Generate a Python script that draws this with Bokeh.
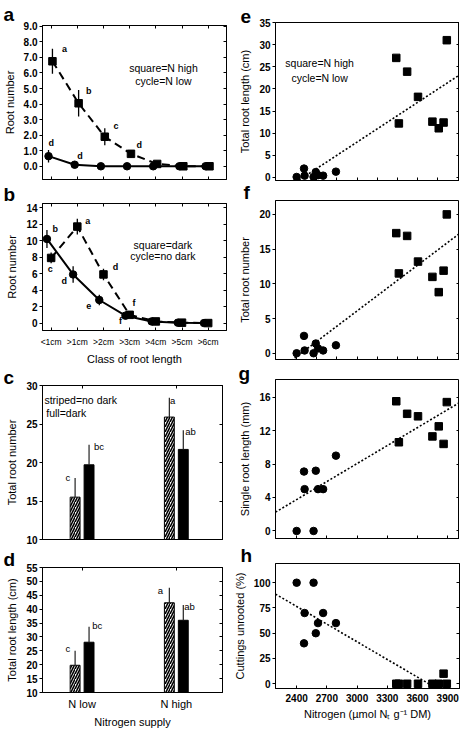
import numpy as np
from bokeh.plotting import figure
from bokeh.models import Range1d, FixedTicker, LinearAxis, NumeralTickFormatter
from bokeh.layouts import column, row
from bokeh.embed import file_html
from bokeh.resources import INLINE
from bokeh.core.properties import value

FONT = "Liberation Sans"

# ---------------- data ----------------
classes = ["<1cm", ">1cm", ">2cm", ">3cm", ">4cm", ">5cm", ">6cm"]
class_pos = [1, 2, 3, 4, 5, 6, 7]

a_nhigh = [6.75, 4.05, 1.9, 0.8, 0.15, 0.0, 0.0]
a_nhigh_err = [0.8, 0.85, 0.55, 0.25, 0.1, 0.0, 0.0]
a_nlow = [0.65, 0.1, 0.0, 0.0, 0.0, 0.0, 0.0]
a_nlow_err = [0.4, 0.05, 0.0, 0.0, 0.0, 0.0, 0.0]
a_nhigh_sig = ["a", "b", "c", "d"]
a_nlow_sig = ["d", "d"]

b_dark = [7.9, 11.7, 5.9, 1.0, 0.2, 0.05, 0.0]
b_dark_err = [0.65, 0.95, 0.7, 0.25, 0.1, 0.0, 0.0]
b_nodark = [10.2, 5.9, 2.8, 0.9, 0.2, 0.05, 0.0]
b_nodark_err = [1.1, 1.0, 0.65, 0.3, 0.1, 0.0, 0.0]
b_dark_sig = ["c", "a", "d", "f"]
b_nodark_sig = ["b", "d", "e", "f"]

supply = ["N low", "N high"]
supply_pos = [1, 2]
c_nodark = [15.5, 25.9]
c_nodark_err = [2.5, 2.5]
c_dark = [19.7, 21.7]
c_dark_err = [2.6, 2.5]
c_sig_nodark = ["c", "a"]
c_sig_dark = ["bc", "ab"]

d_nodark = [19.8, 42.3]
d_nodark_err = [5.2, 5.4]
d_dark = [28.1, 36.0]
d_dark_err = [5.6, 5.5]
d_sig_nodark = ["c", "a"]
d_sig_dark = ["bc", "ab"]

n_low_N = [2400, 2473, 2479, 2568, 2590, 2612, 2663, 2790]
n_high_N = [3389, 3415, 3497, 3605, 3748, 3811, 3859, 3891]
e_low = [0.1, 2.0, 0.4, 0.1, 1.2, 0.5, 0.4, 1.3]
e_high = [27.0, 12.2, 23.9, 18.2, 12.6, 11.1, 12.4, 31.0]
f_low = [0.0, 2.5, 0.4, 0.0, 1.4, 0.7, 0.4, 1.15]
f_high = [17.3, 11.5, 16.9, 13.2, 11.0, 8.8, 11.9, 20.0]
g_low = [0.0, 7.1, 5.0, 0.0, 7.2, 5.0, 5.0, 9.0]
g_high = [15.5, 10.6, 14.0, 13.7, 11.3, 12.5, 10.4, 15.4]
h_low = [100, 40, 70, 100, 50, 60, 70, 60]
h_high = [0, 0, 0, 0, 0, 0, 10, 0]


# ---------------- helpers ----------------
def make_fig(fw, fh, xr, yr, bl, br, bt, bb, letter, loff, lstand):
    p = figure(frame_width=fw, frame_height=fh, x_range=Range1d(*xr), y_range=Range1d(*yr),
               output_backend="svg", toolbar_location=None, title=letter,
               min_border_left=bl, min_border_right=br,
               min_border_top=bt, min_border_bottom=bb)
    p.grid.visible = False
    p.outline_line_color = "black"
    p.outline_line_width = 1
    p.background_fill_color = "white"
    p.border_fill_color = "white"
    t = p.title
    t.text_font = FONT
    t.text_font_size = "19px"
    t.text_font_style = "bold"
    t.text_color = "black"
    t.align = "left"
    t.vertical_align = "bottom"
    t.offset = loff
    t.standoff = lstand
    return p


def bare_axis(ticks, tick_in=3):
    return LinearAxis(ticker=FixedTicker(ticks=ticks), major_label_text_font_size="0px",
                      major_label_text_alpha=0, major_label_text_color=None,
                      major_label_standoff=0, major_tick_in=tick_in, major_tick_out=0,
                      minor_tick_in=0, minor_tick_out=0, axis_line_color="black")


def y_axis(p, ticks, label, fmt="0", mirror=True):
    ax = p.yaxis[0]
    ax.ticker = FixedTicker(ticks=ticks)
    ax.formatter = NumeralTickFormatter(format=fmt)
    ax.axis_label = label
    ax.axis_label_text_font = FONT
    ax.axis_label_text_font_size = "11px"
    ax.axis_label_text_font_style = "normal"
    ax.axis_label_text_color = "black"
    ax.axis_label_standoff = 5
    ax.major_label_text_font = FONT
    ax.major_label_text_font_size = "10px"
    ax.major_label_text_font_style = "bold"
    ax.major_label_text_color = "black"
    ax.major_label_standoff = 2
    ax.major_tick_out = 3
    ax.major_tick_in = 0
    ax.minor_tick_out = 0
    ax.minor_tick_in = 0
    ax.axis_line_color = "black"
    if mirror:
        p.add_layout(bare_axis(ticks), "right")


def x_axis(p, ticks, labels_on=False, overrides=None, label=None,
           lab_size="10px", lab_style="bold", top=False, standoff=4, tick_in=3):
    ax = p.xaxis[0]
    ax.ticker = FixedTicker(ticks=ticks)
    ax.major_tick_in = tick_in
    ax.major_tick_out = 0
    ax.minor_tick_in = 0
    ax.minor_tick_out = 0
    ax.axis_line_color = "black"
    if labels_on:
        ax.major_label_text_font = FONT
        ax.major_label_text_font_size = lab_size
        ax.major_label_text_font_style = lab_style
        ax.major_label_text_color = "black"
        ax.major_label_standoff = standoff
        if overrides:
            ax.major_label_overrides = overrides
    else:
        ax.major_label_text_font_size = "0px"
        ax.major_label_text_alpha = 0
        ax.major_label_text_color = None
        ax.major_label_standoff = 0
    if label:
        ax.axis_label = label
        ax.axis_label_text_font = FONT
        ax.axis_label_text_font_size = "11px"
        ax.axis_label_text_font_style = "normal"
        ax.axis_label_text_color = "black"
        ax.axis_label_standoff = 3
    if top:
        p.add_layout(bare_axis(ticks), "above")


def texts(p, xs, ys, labels, size="9px", style="bold", align="center"):
    p.text(x=xs, y=ys, text=labels, text_font=value(FONT), text_font_size=size,
           text_font_style=style, text_align=align, text_baseline="middle",
           text_color="black")


def err_sym(p, xs, ys, es, w=1.3):
    x = np.asarray(xs, float)
    y = np.asarray(ys, float)
    e = np.asarray(es, float)
    p.segment(x0=x, y0=y - e, x1=x, y1=y + e, line_color="black", line_width=w)


def err_up(p, xs, ys, es, w=1.2):
    x = np.asarray(xs, float)
    y = np.asarray(ys, float)
    e = np.asarray(es, float)
    p.segment(x0=x, y0=y, x1=x, y1=y + e, line_color="#222222", line_width=w)


# ---------------- panel a ----------------
FA, FB, FC, FD = 154, 127, 154, 125
pa = make_fig(184, FA, (0.67, 7.7), (-0.85, 9.05), 40, 4, 24, 3, "a", -39, 2)
y_axis(pa, list(range(0, 10)), "Root number", fmt="0.0")
x_axis(pa, class_pos, top=True)
xs_sq = np.array(class_pos) + 0.05
xs_ci = np.array(class_pos) - 0.1
err_sym(pa, xs_sq, a_nhigh, a_nhigh_err)
err_sym(pa, xs_ci, a_nlow, a_nlow_err)
pa.line(xs_sq, a_nhigh, line_color="black", line_width=2, line_dash="8 5")
pa.line(xs_ci, a_nlow, line_color="black", line_width=2)
pa.scatter(xs_sq, a_nhigh, marker="square", size=7.5, fill_color="black", line_color="black")
pa.scatter(xs_ci, a_nlow, marker="circle", size=7.5, fill_color="black", line_color="black")
texts(pa, [1.51, 2.44, 3.48, 4.37], [7.53, 4.86, 2.57, 1.39], a_nhigh_sig)
texts(pa, [1.0, 2.1], [1.5, 0.64], a_nlow_sig)
texts(pa, [5.29, 5.29], [6.29, 5.48], ["square=N high", "cycle=N low"], size="10.5px", style="normal")

# ---------------- panel b ----------------
pb = make_fig(184, FB, (0.67, 7.7), (-0.9, 14.5), 40, 4, 19, 35, "b", -39, -2)
y_axis(pb, list(range(0, 15, 2)), "Root number")
x_axis(pb, class_pos, labels_on=True, overrides={k: v for k, v in zip(class_pos, classes)},
       label="Class of root length", lab_size="8.5px", lab_style="normal", top=True, standoff=6)
xs_sq = np.array(class_pos, float)
xs_ci = np.array(class_pos) - 0.16
err_sym(pb, xs_sq, b_dark, b_dark_err)
err_sym(pb, xs_ci, b_nodark, b_nodark_err)
pb.line(xs_sq, b_dark, line_color="black", line_width=2, line_dash="8 5")
pb.line(xs_ci, b_nodark, line_color="black", line_width=2)
pb.scatter(xs_sq, b_dark, marker="square", size=7.5, fill_color="black", line_color="black")
pb.scatter(xs_ci, b_nodark, marker="circle", size=7.5, fill_color="black", line_color="black")
texts(pb, [0.97, 2.4, 3.46, 4.17], [6.6, 12.4, 6.76, 2.4], b_dark_sig)
texts(pb, [1.16, 1.5, 2.44, 3.65], [11.4, 5.05, 2.1, 0.2], b_nodark_sig)
texts(pb, [5.27, 5.27], [9.47, 8.15], ["square=dark", "cycle=no dark"], size="10.5px", style="normal")


# ---------------- panels c, d ----------------
def bar_panel(fh, yr, yticks, ylabel, nodark, nodark_err, dark, dark_err,
              sig_nd, sig_d, sig_pos, bt, bb, labels_on, legend, letter, lstand):
    p = make_fig(180, fh, (0.58, 2.49), yr, 40, 8, bt, bb, letter, -39, lstand)
    y_axis(p, yticks, ylabel)
    if labels_on:
        x_axis(p, supply_pos, labels_on=True, overrides={k: v for k, v in zip(supply_pos, supply)},
               label="Nitrogen supply", lab_size="11px", lab_style="normal", top=True,
               standoff=5, tick_in=0)
    else:
        x_axis(p, supply_pos, top=True, tick_in=0)
    xs = np.array(supply_pos, float)
    off, wid = 0.074, 0.105
    p.vbar(x=xs - off, top=nodark, bottom=0, width=wid, fill_color="white", line_color="black",
           line_width=1, hatch_pattern="right_diagonal_line", hatch_color="black",
           hatch_scale=5, hatch_weight=1.6)
    p.vbar(x=xs + off, top=dark, bottom=0, width=wid, fill_color="black", line_color="black")
    err_up(p, xs - off, nodark, nodark_err)
    err_up(p, xs + off, dark, dark_err)
    (sx, sy) = sig_pos
    texts(p, sx, sy, [sig_nd[0], sig_d[0], sig_nd[1], sig_d[1]], size="9.5px", style="normal")
    if legend:
        texts(p, [0.6, 0.62], [yr[0] + (yr[1] - yr[0]) * 0.905, yr[0] + (yr[1] - yr[0]) * 0.82],
              ["striped=no dark", "full=dark"], size="10.5px", style="normal", align="left")
    return p


pc = bar_panel(FC, (10, 30), [10, 15, 20, 25, 30], "Total root number",
               c_nodark, c_nodark_err, c_dark, c_dark_err, c_sig_nodark, c_sig_dark,
               ([0.85, 1.18, 1.96, 2.15], [18.0, 22.1, 28.1, 24.0]), 16, 10, False, True, "c", -5)

pd_ = bar_panel(FD, (10, 55), list(range(10, 56, 5)), "Total root length (cm)",
                d_nodark, d_nodark_err, d_dark, d_dark_err, d_sig_nodark, d_sig_dark,
                ([0.85, 1.16, 1.83, 2.14], [25.9, 34.0, 46.7, 40.8]), 15, 34, True, False, "d", -5)

# ---------------- right column ----------------
NXR = (2190, 4017)


def scatter_panel(fh, yr, yticks, ylabel, low, high, xticks, bt, bb, labels_on,
                  letter, loff, lstand, fmt="0"):
    p = make_fig(184, fh, NXR, yr, 43, 2, bt, bb, letter, loff, lstand)
    y_axis(p, yticks, ylabel, fmt=fmt)
    if labels_on:
        x_axis(p, xticks, labels_on=True, label="Nitrogen (\u00b5mol N\u209c g\u207b\u00b9 DM)",
               lab_size="10px", lab_style="bold", standoff=5)
    else:
        x_axis(p, xticks)
    allx = np.array(n_low_N + n_high_N, float)
    ally = np.array(list(low) + list(high), float)
    k, b0 = np.polyfit(allx, ally, 1)
    lx = np.array(NXR, float)
    p.line(lx, k * lx + b0, line_color="black", line_width=1.6, line_dash="2 2")
    p.scatter(n_low_N, low, marker="circle", size=7.5, fill_color="black", line_color="black")
    p.scatter(n_high_N, high, marker="square", size=7.5, fill_color="black", line_color="black")
    return p


ticks200 = list(range(2400, 3801, 200))
ticks300 = list(range(2400, 3901, 300))
FE, FF, FG, FH = 158, 159, 159, 125

pe = scatter_panel(FE, (-0.7, 35), list(range(0, 36, 5)), "Total root length (cm)",
                   e_low, e_high, ticks200, 22, 2, False, "e", -35, 0)
texts(pe, [2628, 2628], [25.9, 22.4], ["square=N high", "cycle=N low"], size="10.5px", style="normal")

pf = scatter_panel(FF, (-0.9, 22), [0, 5, 10, 15, 20], "Total root number",
                   f_low, f_high, ticks200, 16, 5, False, "f", -32, -5)

pg = scatter_panel(FG, (-0.9, 18.1), [0, 4, 8, 12, 16], "Single root length (mm)",
                   g_low, g_high, ticks300, 13, 7, False, "g", -37, -8)

ph = scatter_panel(FH, (-4.7, 119), [0, 25, 50, 75, 100], "Cuttings unrooted (%)",
                   h_low, h_high, ticks300, 15, 36, True, "h", -35, -5)

layout = row(column(pa, pb, pc, pd_), column(pe, pf, pg, ph))

open("out.html", "w").write(file_html(layout, INLINE))
